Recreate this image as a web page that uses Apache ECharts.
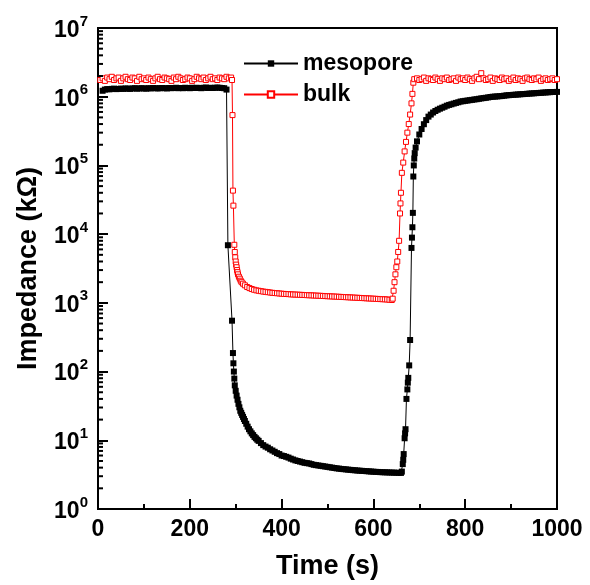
<!DOCTYPE html>
<html>
<head>
<meta charset="utf-8">
<script src="https://cdn.jsdelivr.net/npm/echarts@6/dist/echarts.min.js"></script>
<style>html,body{margin:0;padding:0;background:#fff}#c{width:590px;height:585px}</style>
</head>
<body>
<div id="c"></div>
<script>
// ---- data: [time (s), impedance (kΩ)] ----
var mesoPlateau = [[10,1.22e6],[15,1.27e6],[20,1.29e6],[25,1.28e6],[30,1.30e6],[35,1.31e6],[40,1.29e6],[45,1.30e6],[50,1.31e6],[55,1.30e6],[60,1.32e6],[65,1.31e6],[70,1.30e6],[75,1.32e6],[80,1.33e6],[85,1.31e6],[90,1.32e6],[95,1.33e6],[100,1.32e6],[105,1.31e6],[110,1.33e6],[115,1.32e6],[120,1.34e6],[125,1.33e6],[130,1.32e6],[135,1.33e6],[140,1.34e6],[145,1.33e6],[150,1.32e6],[155,1.34e6],[160,1.33e6],[165,1.34e6],[170,1.35e6],[175,1.33e6],[180,1.34e6],[185,1.33e6],[190,1.35e6],[195,1.34e6],[200,1.33e6],[205,1.35e6],[210,1.34e6],[215,1.35e6],[220,1.34e6],[225,1.33e6],[230,1.35e6],[235,1.36e6],[240,1.34e6],[245,1.35e6],[250,1.34e6],[255,1.35e6],[260,1.36e6],[265,1.35e6],[270,1.34e6],[275,1.33e6],[280,1.27e6]];
var mesoDrop = [[283,6900],[292,550],[294,186],[295,132],[296,100],[297,79],[298,63],[300,52.5],[302,44.7],[304,38.9],[306,33.9],[308,30.2],[310,26.9],[312,25.1],[314,23.4],[316,21.9],[318,20.4],[320,19.1],[323,17.4],[326,15.8],[329,14.5],[332,13.5],[335,12.6],[338,11.9],[341,11.2],[344,10.7],[347,10.2],[350,9.8],[355,9.1],[360,8.5],[365,8.1],[370,7.8],[375,7.4],[380,7.1],[385,6.8],[390,6.5],[395,6.3],[400,6.0],[405,5.9],[410,5.75],[415,5.6],[420,5.4],[425,5.25],[430,5.1],[435,5.0],[440,4.9],[445,4.8],[450,4.7],[455,4.65],[460,4.6],[465,4.5],[470,4.4],[475,4.35],[480,4.3],[485,4.25],[490,4.2],[495,4.15],[500,4.1],[505,4.05],[510,4.0],[515,3.95],[520,3.9],[525,3.87],[530,3.83],[535,3.8],[540,3.77],[545,3.74],[550,3.71],[555,3.68],[560,3.66],[565,3.63],[570,3.61],[575,3.59],[580,3.57],[585,3.55],[590,3.53],[595,3.51],[600,3.49],[605,3.47],[610,3.46],[615,3.44],[620,3.43],[625,3.42],[630,3.41],[635,3.40],[640,3.39],[645,3.38],[650,3.37],[655,3.36],[660,3.35],[662,3.5]];
var mesoRise = [[664,4.5],[665,5.2],[666,6.3],[668,10.7],[669,12.6],[670,14.5],[672,40],[674,55],[675,69],[676,81],[678,123],[680,288],[683,6300],[684,8900],[685,12600],[686,20400],[687,69000],[688,1.0e5],[689,1.26e5],[690,1.51e5],[692,1.82e5],[695,2.24e5],[700,2.82e5],[705,3.39e5],[710,3.98e5],[715,4.57e5],[720,5.13e5],[725,5.5e5],[730,5.89e5],[735,6.2e5],[740,6.46e5],[745,6.7e5],[750,6.92e5],[755,7.15e5],[760,7.41e5],[765,7.6e5],[770,7.76e5],[775,7.95e5],[780,8.13e5],[785,8.3e5],[790,8.51e5],[795,8.6e5],[800,8.71e5],[805,8.8e5],[810,8.91e5],[815,9.0e5],[820,9.12e5],[825,9.2e5],[830,9.33e5],[835,9.45e5],[840,9.55e5],[845,9.65e5],[850,9.77e5],[855,9.9e5],[860,1.0e6],[865,1.005e6],[870,1.01e6],[875,1.018e6],[880,1.023e6],[885,1.035e6],[890,1.047e6],[895,1.053e6],[900,1.06e6],[905,1.066e6],[910,1.072e6],[915,1.078e6],[920,1.085e6],[925,1.09e6],[930,1.096e6],[935,1.103e6],[940,1.11e6],[945,1.116e6],[950,1.122e6],[955,1.128e6],[960,1.135e6],[965,1.14e6],[970,1.148e6],[975,1.153e6],[980,1.16e6],[985,1.165e6],[990,1.17e6],[995,1.172e6],[1000,1.175e6]];

var bulkPlateau1 = [[5,1.75e6],[10,1.85e6],[15,1.7e6],[20,1.9e6],[25,1.8e6],[30,1.95e6],[35,1.75e6],[40,1.85e6],[45,1.9e6],[50,1.7e6],[55,1.85e6],[60,1.95e6],[65,1.8e6],[70,1.75e6],[75,1.9e6],[80,1.85e6],[85,1.7e6],[90,1.95e6],[95,1.8e6],[100,1.85e6],[105,1.75e6],[110,1.9e6],[115,1.8e6],[120,1.7e6],[125,1.85e6],[130,1.95e6],[135,1.8e6],[140,1.75e6],[145,1.9e6],[150,1.85e6],[155,1.8e6],[160,1.7e6],[165,1.9e6],[170,1.8e6],[175,1.95e6],[180,1.85e6],[185,1.75e6],[190,1.8e6],[195,1.9e6],[200,1.85e6],[205,1.7e6],[210,1.8e6],[215,1.95e6],[220,1.85e6],[225,1.8e6],[230,1.9e6],[235,1.75e6],[240,1.85e6],[245,1.95e6],[250,1.8e6],[255,1.85e6],[260,1.75e6],[265,1.9e6],[270,1.85e6],[275,1.8e6],[280,1.95e6],[285,1.85e6],[290,1.9e6]];
var bulkDrop = [[292,1.75e6],[293,5.4e5],[294,4.3e4],[295,2.6e4],[297,7000],[298,5500],[299,4600],[300,4000],[301,3600],[302,3300],[303,3000],[304,2800],[305,2600],[307,2400],[309,2250],[311,2100],[313,2000],[316,1900],[320,1800],[325,1700],[330,1640],[335,1590],[340,1550],[345,1520],[350,1500],[355,1480],[360,1460],[365,1445],[370,1430],[375,1415],[380,1400],[385,1390],[390,1380],[395,1370],[400,1360],[405,1350],[410,1345],[415,1340],[420,1330],[425,1325],[430,1320],[435,1315],[440,1310],[445,1305],[450,1300],[455,1295],[460,1290],[465,1285],[470,1280],[475,1275],[480,1270],[485,1265],[490,1260],[495,1255],[500,1250],[505,1245],[510,1240],[515,1235],[520,1230],[525,1225],[530,1220],[535,1215],[540,1210],[545,1205],[550,1200],[555,1195],[560,1190],[565,1185],[570,1180],[575,1175],[580,1170],[585,1165],[590,1160],[595,1155],[600,1150],[605,1145],[610,1140],[615,1135],[620,1130],[625,1125],[630,1120],[635,1110],[640,1100]];
var bulkRise = [[642,1150],[644,1500],[646,2000],[648,2600],[650,3300],[652,4000],[654,5500],[656,8000],[658,2.0e4],[659,2.8e4],[660,4.0e4],[662,7.8e4],[665,1.1e5],[668,1.6e5],[671,2.2e5],[674,3.0e5],[677,4.0e5],[680,5.5e5],[683,8.0e5],[685,1.1e6],[687,1.6e6],[689,1.8e6]];
var bulkPlateau2 = [[695,1.85e6],[700,1.75e6],[705,1.8e6],[710,1.9e6],[715,1.7e6],[720,1.85e6],[725,1.8e6],[730,1.75e6],[735,1.9e6],[740,1.8e6],[745,1.7e6],[750,1.85e6],[755,1.8e6],[760,1.9e6],[765,1.75e6],[770,1.8e6],[775,1.85e6],[780,1.7e6],[785,1.9e6],[790,1.8e6],[795,1.85e6],[800,1.75e6],[805,1.9e6],[810,1.8e6],[815,1.7e6],[820,1.85e6],[825,1.95e6],[830,1.8e6],[835,2.2e6],[840,1.85e6],[845,1.75e6],[850,1.8e6],[855,1.9e6],[860,1.7e6],[865,1.85e6],[870,1.8e6],[875,1.75e6],[880,1.9e6],[885,1.8e6],[890,1.85e6],[895,1.7e6],[900,1.8e6],[905,1.9e6],[910,1.75e6],[915,1.85e6],[920,1.8e6],[925,1.7e6],[930,1.85e6],[935,1.9e6],[940,1.8e6],[945,1.75e6],[950,1.85e6],[955,1.8e6],[960,1.9e6],[965,1.7e6],[970,1.8e6],[975,1.85e6],[980,1.75e6],[985,1.8e6],[990,1.85e6],[995,1.75e6],[1000,1.8e6]];

var seriesNames = ['mesopore', 'bulk'];
var xTicks = [0, 200, 400, 600, 800, 1000];
var yDecades = [0, 1, 2, 3, 4, 5, 6, 7];

var mesopore = mesoPlateau.concat(mesoDrop, mesoRise);
var bulk = bulkPlateau1.concat(bulkDrop, bulkRise, bulkPlateau2);

// log minor tick positions (2..9 within each decade)
var minorVals = [];
for (var d = 0; d < yDecades.length - 1; d++) {
  for (var m = 2; m <= 9; m++) minorVals.push([0, m * Math.pow(10, yDecades[d])]);
}

var FONT = 'Arial, "Liberation Sans", sans-serif';
var chart = echarts.init(document.getElementById('c'), null, {renderer: 'canvas'});
chart.setOption({
  animation: false,
  backgroundColor: '#fff',
  grid: {left: 98, right: 33, top: 28, bottom: 66, show: true, borderColor: '#000', borderWidth: 2, backgroundColor: 'transparent'},
  legend: {
    data: seriesNames, orient: 'vertical', left: 238, top: 47,
    itemWidth: 54, itemHeight: 8, itemGap: 8,
    textStyle: {fontFamily: FONT, fontWeight: 'bold', fontSize: 23, color: '#000'}
  },
  xAxis: {
    type: 'value', min: xTicks[0], max: xTicks[xTicks.length - 1], interval: 200,
    name: 'Time (s)', nameLocation: 'middle', nameGap: 44,
    nameTextStyle: {fontFamily: FONT, fontWeight: 'bold', fontSize: 27, color: '#000'},
    axisLine: {lineStyle: {color: '#000', width: 2}},
    axisTick: {inside: true, length: 10, lineStyle: {color: '#000', width: 2}},
    minorTick: {show: true, splitNumber: 2, length: 5, lineStyle: {color: '#000', width: 2}},
    splitLine: {show: false},
    axisLabel: {margin: 9, fontFamily: FONT, fontWeight: 'bold', fontSize: 23, color: '#000',
      formatter: function (v) { return String(v); }}
  },
  yAxis: {
    type: 'log', logBase: 10, min: 1, max: 1e7,
    name: 'Impedance (kΩ)', nameLocation: 'middle', nameGap: 56,
    nameTextStyle: {fontFamily: FONT, fontWeight: 'bold', fontSize: 27, color: '#000'},
    axisLine: {lineStyle: {color: '#000', width: 2}},
    axisTick: {inside: true, length: 10, lineStyle: {color: '#000', width: 2}},
    splitLine: {show: false},
    axisLabel: {
      margin: 10,
      formatter: function (v) {
        var e = Math.round(Math.log10(v));
        return '{b|10}{s|' + e + '}';
      },
      rich: {
        b: {fontFamily: FONT, fontWeight: 'bold', fontSize: 23, color: '#000', lineHeight: 28, verticalAlign: 'bottom'},
        s: {fontFamily: FONT, fontWeight: 'bold', fontSize: 15, color: '#000', lineHeight: 15, verticalAlign: 'top'}
      }
    }
  },
  series: [
    {
      name: 'mesopore', type: 'line', data: mesopore, z: 3,
      symbol: 'rect', symbolSize: 6,
      itemStyle: {color: '#000'},
      lineStyle: {color: '#000', width: 1}
    },
    {
      name: 'bulk', type: 'line', data: bulk, z: 2,
      symbol: 'rect', symbolSize: 5,
      itemStyle: {color: '#fff', borderColor: '#ff0000', borderWidth: 1},
      lineStyle: {color: '#ff0000', width: 1}
    },
    {
      name: 'minorTicks', type: 'custom', data: minorVals, silent: true, z: 5,
      renderItem: function (params, api) {
        var p = api.coord([api.value(0), api.value(1)]);
        return {type: 'line', shape: {x1: p[0], y1: p[1], x2: p[0] + 5, y2: p[1]}, style: {stroke: '#000', lineWidth: 2}};
      }
    }
  ]
});
</script>
</body>
</html>
